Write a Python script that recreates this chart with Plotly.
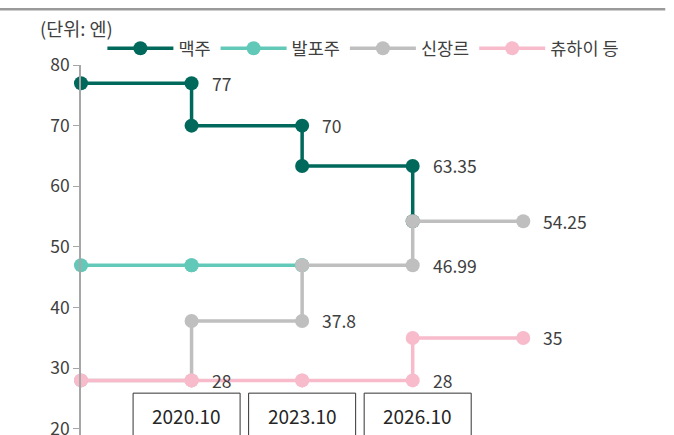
import plotly.graph_objects as go

# ---- data ----
series_names = ["맥주", "발포주", "신장르", "츄하이 등"]
boundaries = [0, 1, 2, 3, 4]                       # period boundaries (start, 2020.10, 2023.10, 2026.10, end)
period_labels = ["2020.10", "2023.10", "2026.10"]  # revision dates at boundaries 1..3
beer = [77, 70, 63.35, 54.25]
happoshu = [46.99, 46.99, 46.99, 54.25]
new_genre = [28, 37.8, 46.99, 54.25]
chuhai = [28, 28, 28, 35]
draw_until = [3, 2, 4, 4]                           # last boundary where each series is drawn in its own colour
label_x = [1, 2, 3, 4, 2, 3, 1, 3, 4]
label_y = [77, 70, 63.35, 54.25, 37.8, 46.99, 28, 28, 35]
label_text = ["77", "70", "63.35", "54.25", "37.8", "46.99", "28", "28", "35"]

colors = ["#00695C", "#62C9B9", "#BFBFBF", "#F8BBCB"]
FONT = "Noto Sans CJK KR"


def corners(values, until):
    xs, ys = [], []
    for i, v in enumerate(values):
        x0, x1 = boundaries[i], boundaries[i + 1]
        if x0 > until:
            break
        xs.append(x0); ys.append(v)
        if x1 <= until:
            xs.append(x1); ys.append(v)
    return xs, ys


fig = go.Figure()
for name, vals, until, col in zip(series_names, [beer, happoshu, new_genre, chuhai], draw_until, colors):
    xs, ys = corners(vals, until)
    fig.add_trace(go.Scatter(
        x=xs, y=ys, name=name, mode="lines+markers",
        line=dict(color=col, width=3.5),
        marker=dict(color=col, size=14),
        cliponaxis=False, hoverinfo="skip",
    ))

for x, y, t in zip(label_x, label_y, label_text):
    fig.add_annotation(x=x, y=y, text=t, showarrow=False, xanchor="left", yanchor="middle",
                       xshift=18, font=dict(family=FONT, size=17.5, color="#404040"))

box_centers = [0.955, 2.0, 3.045]
for c, t in zip(box_centers, period_labels):
    fig.add_shape(type="rect", xref="x", yref="y", x0=c - 0.484, x1=c + 0.484, y0=14, y1=25.9,
                  line=dict(color="#333333", width=1), fillcolor="rgba(0,0,0,0)")
    fig.add_annotation(x=c, y=22.25, text=t, showarrow=False, xanchor="center", yanchor="middle",
                       font=dict(family=FONT, size=19, color="#262626"))

# unit label and top rule
fig.add_annotation(xref="paper", yref="paper", x=-0.074, y=1.1, text="(단위: 엔)", showarrow=False,
                   xanchor="left", yanchor="middle", font=dict(family=FONT, size=18.5, color="#404040"))
fig.add_shape(type="line", xref="paper", yref="paper", x0=-0.1383, x1=0.997, y0=1.151, y1=1.151,
              line=dict(color="#9A9A9A", width=2.5))

fig.update_layout(
    width=674, height=435,
    margin=dict(l=81, r=7, t=65, b=0, autoexpand=False),
    plot_bgcolor="white", paper_bgcolor="white",
    font=dict(family=FONT, size=16, color="#404040"),
    showlegend=True,
    legend=dict(orientation="h", x=0.0365, y=1.045, xanchor="left", yanchor="middle",
                font=dict(family=FONT, size=17.5, color="#404040"),
                itemwidth=66, bgcolor="rgba(0,0,0,0)"),
    xaxis=dict(range=[0, 5.3], visible=False, showgrid=False, zeroline=False),
    yaxis=dict(range=[19, 80], tickvals=[20, 30, 40, 50, 60, 70, 80], showgrid=False, zeroline=False,
               showline=True, linecolor="#A6A6A6", linewidth=1.5, ticks="outside", ticklen=6,
               tickcolor="#A6A6A6", ticklabeloverflow="allow",
               tickfont=dict(family=FONT, size=17.5, color="#404040")),
)

fig.write_html("out.html", config={"displayModeBar": False},
               post_script="document.body.style.margin='0px';document.body.style.overflow='hidden';")
